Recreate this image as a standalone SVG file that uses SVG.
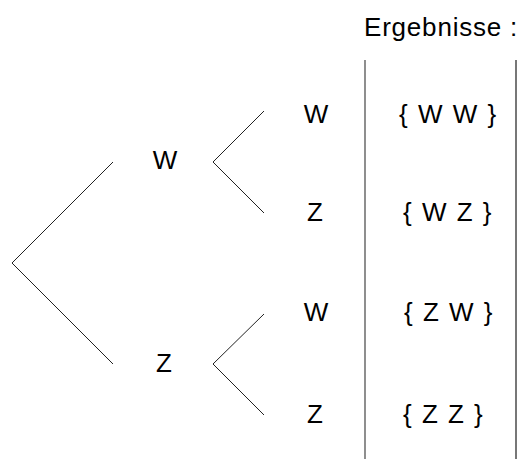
<svg xmlns="http://www.w3.org/2000/svg" width="521" height="459" viewBox="0 0 521 459">
<style>
text{font-family:"Liberation Sans",Arial,sans-serif;font-size:26px;fill:#000}
.r{letter-spacing:1.5px}
.l{stroke:#222;stroke-width:1;fill:none}
.v{stroke:#444;stroke-width:1.2;fill:none}
.v2{stroke:#777;stroke-width:2;fill:none}
</style>
<rect width="521" height="459" fill="#fff"/>
<g id="connectors">
<polyline class="l" points="113,162 12,263 113,364"/>
<polyline class="l" points="264,111 213,162 264,213"/>
<polyline class="l" points="264,314 213,364 264,415"/>
<line class="v" x1="365" y1="60" x2="365" y2="459"/>
<line class="v2" x1="516" y1="60" x2="516" y2="459"/>
</g>
<g id="title"><text x="364" y="36" letter-spacing="0.8">Ergebnisse :</text></g>
<g id="n-W1"><text x="165" y="169" text-anchor="middle">W</text></g>
<g id="n-Z1"><text x="164" y="372" text-anchor="middle">Z</text></g>
<g id="n-WW"><text x="316" y="123" text-anchor="middle">W</text></g>
<g id="n-WZ"><text x="315" y="221" text-anchor="middle">Z</text></g>
<g id="n-ZW"><text x="316" y="321" text-anchor="middle">W</text></g>
<g id="n-ZZ"><text x="315" y="423" text-anchor="middle">Z</text></g>
<g id="r-WW"><text class="r" x="399" y="123">{ W W }</text></g>
<g id="r-WZ"><text class="r" x="403" y="221">{ W Z }</text></g>
<g id="r-ZW"><text class="r" x="404" y="321">{ Z W }</text></g>
<g id="r-ZZ"><text class="r" x="403" y="423">{ Z Z }</text></g>
</svg>
